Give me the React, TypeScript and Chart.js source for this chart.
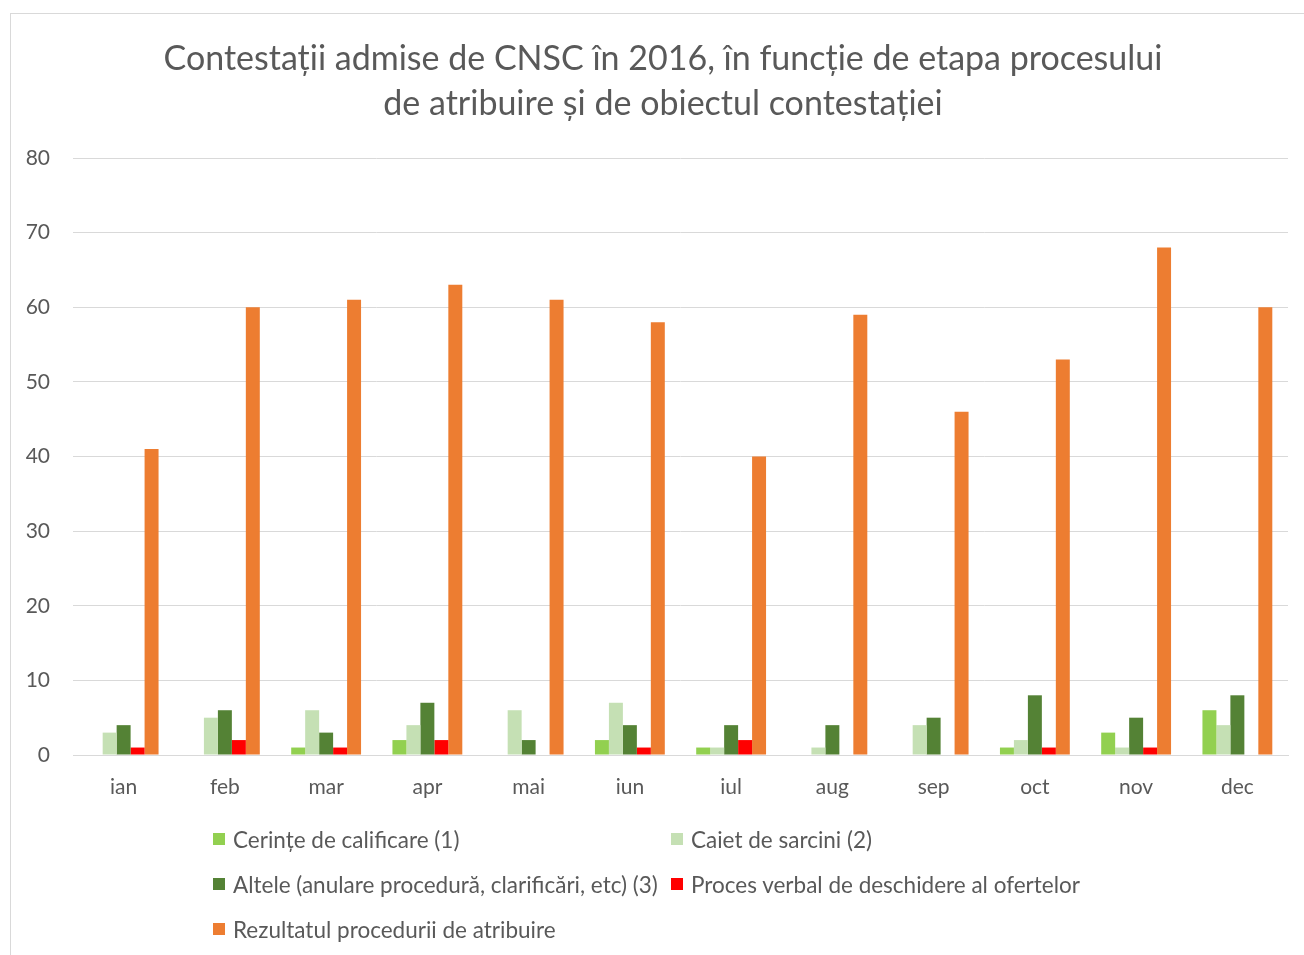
import React, { useEffect, useRef } from "react";
import { Chart, registerables } from "chart.js";

Chart.register(...registerables);

const months = ["ian", "feb", "mar", "apr", "mai", "iun", "iul", "aug", "sep", "oct", "nov", "dec"];
const cerinte = [0, 0, 1, 2, 0, 2, 1, 0, 0, 1, 3, 6];
const caiet = [3, 5, 6, 4, 6, 7, 1, 1, 4, 2, 1, 4];
const altele = [4, 6, 3, 7, 2, 4, 4, 4, 5, 8, 5, 8];
const procesVerbal = [1, 2, 1, 2, 0, 1, 2, 0, 0, 1, 1, 0];
const rezultat = [41, 60, 61, 63, 61, 58, 40, 59, 46, 53, 68, 60];

const titleLines = [
  "Contestații admise de CNSC în 2016, în funcție de etapa procesului",
  "de atribuire și de obiectul contestației",
];

const series = [
  { label: "Cerințe de calificare (1)", data: cerinte, color: "#92D050" },
  { label: "Caiet de sarcini (2)", data: caiet, color: "#C5E0B4" },
  { label: "Altele (anulare procedură, clarificări, etc) (3)", data: altele, color: "#548235" },
  { label: "Proces verbal de deschidere al ofertelor", data: procesVerbal, color: "#FF0000" },
  { label: "Rezultatul procedurii de atribuire", data: rezultat, color: "#ED7D31" },
];

const FONT = "Lato, 'Open Sans', sans-serif";
const TEXT = "#595959";

export default function App() {
  const ref = useRef<HTMLCanvasElement | null>(null);

  useEffect(() => {
    if (!ref.current) return;
    const chart = new Chart(ref.current, {
      type: "bar",
      data: {
        labels: months,
        datasets: series.map((s) => ({
          label: s.label,
          data: s.data,
          backgroundColor: s.color,
          borderWidth: 0,
          categoryPercentage: 0.69,
          barPercentage: 1,
        })),
      },
      options: {
        animation: false,
        responsive: false,
        maintainAspectRatio: false,
        layout: { padding: { left: 0, right: 16, top: 158, bottom: 145 } },
        plugins: {
          legend: { display: false },
          tooltip: { enabled: false },
          title: { display: false },
        },
        scales: {
          x: {
            grid: { display: false, drawTicks: false },
            border: { display: true, color: "#D9D9D9", width: 1 },
            ticks: { color: TEXT, font: { family: FONT, size: 21 }, padding: 20 },
            afterFit: (scale: any) => {
              scale.height = 55;
            },
          },
          y: {
            min: 0,
            max: 80,
            ticks: { stepSize: 10, color: TEXT, font: { family: FONT, size: 21 }, padding: 23 },
            grid: { color: "#D9D9D9", lineWidth: 1, drawTicks: false },
            border: { display: false },
            afterFit: (scale: any) => {
              scale.width = 73;
            },
          },
        },
      },
    });
    return () => chart.destroy();
  }, []);

  const legendRows = [
    [series[0], series[1]],
    [series[2], series[3]],
    [series[4]],
  ];

  return (
    <div style={{ position: "fixed", left: 0, top: 0, width: 1304, height: 955, overflow: "hidden", background: "#fff" }}>
      <div
        style={{
          position: "absolute",
          left: 10,
          top: 13,
          width: 1320,
          height: 980,
          border: "1px solid #D9D9D9",
          boxSizing: "border-box",
        }}
      />
      <canvas ref={ref} width={1304} height={955} style={{ position: "absolute", left: 0, top: 0, width: 1304, height: 955 }} />
      <div
        style={{
          position: "absolute",
          left: 0,
          top: 33.5,
          width: 1326,
          textAlign: "center",
          fontFamily: FONT,
          fontSize: 34,
          lineHeight: "45px",
          color: TEXT,
          whiteSpace: "nowrap",
        }}
      >
        {titleLines.map((t) => (
          <div key={t}>{t}</div>
        ))}
      </div>
      {legendRows.map((row, ri) =>
        row.map((s, ci) => (
          <div
            key={s.label}
            style={{
              position: "absolute",
              left: ci === 0 ? 213 : 671,
              top: 839 + ri * 45 - 15,
              height: 30,
              display: "flex",
              alignItems: "center",
              fontFamily: FONT,
              fontSize: 22.5,
              color: TEXT,
              whiteSpace: "nowrap",
            }}
          >
            <span style={{ display: "inline-block", width: 12, height: 12, background: s.color, marginRight: 8 }} />
            {s.label}
          </div>
        ))
      )}
    </div>
  );
}
